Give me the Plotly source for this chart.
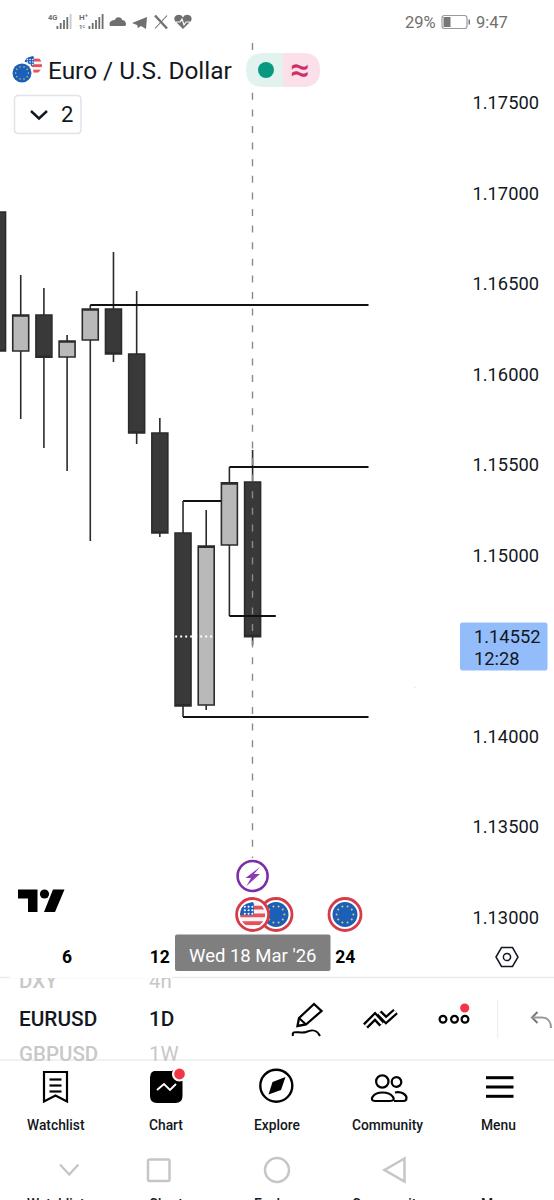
import math
import plotly.graph_objects as go

# ---- data -------------------------------------------------------------
dates = ["3 Mar", "4 Mar", "5 Mar", "6 Mar", "9 Mar", "10 Mar", "11 Mar", "12 Mar", "13 Mar", "16 Mar", "17 Mar", "18 Mar"]
opens = [1.16898, 1.16130, 1.16329, 1.16097, 1.16191, 1.16362, 1.16113, 1.15677, 1.15124, 1.14174, 1.15058, 1.15406]
highs = [1.16898, 1.16550, 1.16478, 1.16218, 1.16384, 1.16677, 1.16461, 1.15760, 1.15301, 1.15251, 1.15489, 1.15583]
lows = [1.16130, 1.15754, 1.15594, 1.15467, 1.15080, 1.16069, 1.15616, 1.15102, 1.14108, 1.14146, 1.14666, 1.14505]
closes = [1.16130, 1.16329, 1.16095, 1.16185, 1.16362, 1.16113, 1.15677, 1.15124, 1.14169, 1.15052, 1.15401, 1.14552]
last_price = 1.14552
levels = [1.16384, 1.15489, 1.14108, 1.14666]
level_start = [4, 10, 8, 10]
level_end = [16, 16, 16, 12]
hidden_level = 1.15301
hidden_start, hidden_end = 8, 10
price_ticks = [1.175, 1.17, 1.165, 1.16, 1.155, 1.15, 1.14, 1.135, 1.13]
date_ticks = [3, 7, 15]
date_labels = ["6", "12", "24"]

W, H = 554, 1200
INK = "#131722"
fig = go.Figure()

# ---- price chart -------------------------------------------------------
fig.add_trace(go.Candlestick(
    x=list(range(len(dates))), open=opens, high=highs, low=lows, close=closes,
    increasing=dict(line=dict(color="#2b2b2b", width=1.6), fillcolor="#b9b9b9"),
    decreasing=dict(line=dict(color="#2b2b2b", width=1.6), fillcolor="#393939"),
    whiskerwidth=0, hoverinfo="skip", showlegend=False, xaxis="x", yaxis="y"))
for lv, a, b in zip(levels, level_start, level_end):
    fig.add_trace(go.Scatter(x=[a, b], y=[lv, lv], mode="lines", line=dict(color="#111", width=1.9),
                             hoverinfo="skip", showlegend=False))
fig.add_trace(go.Scatter(x=[7.66, 9.37], y=[last_price, last_price], mode="lines",
                         line=dict(color="#ffffff", width=2, dash="2px,3px"), hoverinfo="skip", showlegend=False))
fig.add_trace(go.Scatter(x=[0], y=[0], mode="none", xaxis="x2", yaxis="y2", hoverinfo="skip", showlegend=False))

fig.add_shape(type="line", x0=hidden_start, x1=hidden_end, y0=hidden_level, y1=hidden_level,
              xref="x", yref="y", layer="below", line=dict(color="#111", width=1.9))

S = []
A = []

def shp(**k):
    k.setdefault("xref", "x2")
    k.setdefault("yref", "y2")
    S.append(k)

def rect(x0, y0, x1, y1, fill=None, line=None, lw=0):
    shp(type="rect", x0=x0, y0=y0, x1=x1, y1=y1, fillcolor=fill or "rgba(0,0,0,0)",
        line=dict(color=line or "rgba(0,0,0,0)", width=lw))

def circ(cx, cy, r, fill=None, line=None, lw=0):
    shp(type="circle", x0=cx - r, y0=cy - r, x1=cx + r, y1=cy + r, fillcolor=fill or "rgba(0,0,0,0)",
        line=dict(color=line or "rgba(0,0,0,0)", width=lw))

def path(d, fill=None, line=None, lw=0):
    shp(type="path", path=d, fillcolor=fill or "rgba(0,0,0,0)",
        line=dict(color=line or "rgba(0,0,0,0)", width=lw))

def seg(x0, y0, x1, y1, color, lw, dash=None):
    shp(type="line", x0=x0, y0=y0, x1=x1, y1=y1, line=dict(color=color, width=lw, dash=dash))

def poly(points, close=True):
    return "M" + " L".join(f"{x:.2f},{y:.2f}" for x, y in points) + (" Z" if close else "")

def rrect(x0, y0, x1, y1, r):
    return (f"M{x0+r},{y0} L{x1-r},{y0} Q{x1},{y0} {x1},{y0+r} L{x1},{y1-r} Q{x1},{y1} {x1-r},{y1} "
            f"L{x0+r},{y1} Q{x0},{y1} {x0},{y1-r} L{x0},{y0+r} Q{x0},{y0} {x0+r},{y0} Z")

def txt(x, y, s, size=18, color=INK, anchor="left", weight=400, yanchor="middle", family="Roboto"):
    A.append(dict(x=x, y=y, xref="x2", yref="y2", text=s, showarrow=False, xanchor=anchor, yanchor=yanchor,
                  font=dict(family=family, size=size, color=color, weight=weight), borderpad=0, borderwidth=0))

def mask(x0, y0, x1, y1):
    A.append(dict(x=x0, y=y0, xref="x2", yref="y2", text=" ", showarrow=False, xanchor="left", yanchor="top",
                  width=x1 - x0, height=y1 - y0, bgcolor="#ffffff", borderpad=0, borderwidth=0,
                  font=dict(size=1)))

def band(cx, cy, r, y0, y1, xmax=None, xmin=None):
    """Polygon: part of the disc between two heights."""
    n = 8
    ys = [y0 + (y1 - y0) * i / n for i in range(n + 1)]
    def half(y):
        d = r * r - (y - cy) ** 2
        return math.sqrt(max(d, 0))
    right = [(min(cx + half(y), xmax if xmax is not None else 1e9), y) for y in ys]
    left = [(max(cx - half(y), xmin if xmin is not None else -1e9), y) for y in reversed(ys)]
    return poly(right + left)

def eu_flag(cx, cy, r, dot):
    circ(cx, cy, r, fill="#1c5fb8")
    for i in range(10):
        a = 2 * math.pi * i / 10
        circ(cx + 0.67 * r * math.cos(a), cy + 0.67 * r * math.sin(a), dot, fill="#d9cf6a")

def us_flag(cx, cy, r):
    circ(cx, cy, r, fill="#f3f3f3")
    h = 2 * r / 6.5
    for k in (1, 3, 5):
        y0 = cy - r + k * h
        path(band(cx, cy, r, y0, y0 + h * 0.95), fill="#e8505a")
    path(band(cx, cy, r, cy - r, cy + 0.05 * r, xmax=cx + 0.1 * r), fill="#1c5fb8")
    for i in range(3):
        for j in range(3):
            circ(cx - 0.62 * r + i * 0.3 * r, cy - 0.62 * r + j * 0.28 * r, 0.075 * r + 0.1, fill="#ffffff")

# crosshair
seg(252.5, 43, 252.5, 858, "#8a8a8a", 1.4, "7px,9.6px")

# faint specks
circ(415, 687, 0.6, fill="#cccccc")
circ(392, 717, 0.6, fill="#dddddd")

# price tag
path(rrect(460, 622.5, 547.5, 670.5, 2.5), fill="#92bdfa")
txt(473.5, 636.5, "1.14552", 18.3)
txt(473.5, 658.5, "12:28", 18.3)

# ---- status bar --------------------------------------------------------
G = "#6f6f6f"
txt(48, 17, "4G", 7.5, G, weight=700)
for i, h in enumerate((3, 6, 9, 12, 15)):
    rect(56.5 + i * 3.3, 29 - h, 58.3 + i * 3.3, 29, fill=G if i < 4 else "#c9c9c9")
txt(79, 17, "H⁺", 8, G, weight=700)
txt(79, 26, "1ᴳ", 6, G, weight=700)
for i, h in enumerate((3, 6, 9, 12, 15)):
    rect(88.5 + i * 3.3, 29 - h, 90.3 + i * 3.3, 29, fill=G)
path("M110,26 C108,21 113,20 115,20 C116,16 122,17 122,20 C126,20 127,25 125,26 Z", fill=G)
path(poly([(132, 23), (147, 17), (146, 29), (141, 26), (138, 28), (137, 25)]), fill=G)
seg(155, 15.5, 167, 28.5, G, 2.4)
seg(167, 15.5, 155, 28.5, G, 1.1)
path("M183,29 L175,21 C172,16 180,12 183,17.5 C186,12 194,16 191,21 Z", fill=G)
path(poly([(176, 22), (180, 22), (182, 19), (184, 25), (186, 22), (190, 22)], close=False), line="#ffffff", lw=1.2)
txt(404.5, 22, "29%", 16.5, G)
path(rrect(442, 15.5, 467, 28.5, 2.5), line="#9a9a9a", lw=1.2)
rect(443.5, 17, 450.5, 27, fill="#777777")
rect(468.5, 19.5, 470, 24.5, fill="#777777")
txt(476, 22, "9:47", 16.5, G)

# ---- symbol header -----------------------------------------------------
us_flag(33, 65, 9)
circ(22, 73, 11.5, fill="#ffffff")
eu_flag(22, 73, 9.5, 0.75)
txt(48, 70, "Euro / U.S. Dollar", 24.4)
path(f"M283,53 L263,53 Q246,53 246,70 Q246,87 263,87 L283,87 Z", fill="#e1f2ef")
path(f"M283,53 L303,53 Q320,53 320,70 Q320,87 303,87 L283,87 Z", fill="#fbdfe9")
circ(266, 70, 8, fill="#089981")
txt(299, 69, "≈", 34, "#cc2f6a", anchor="center", weight=500)
path(rrect(14.5, 95.5, 81, 133.5, 4), fill="#ffffff", line="#e0e3eb", lw=1.5)
path(poly([(31, 111), (39, 118.5), (47, 111)], close=False), line="#131722", lw=2.4)
txt(67, 114, "2", 22, anchor="center")

# ---- logo --------------------------------------------------------------
path(poly([(18, 889.5), (37.5, 889.5), (37.5, 912), (28, 912), (28, 898.5), (18, 898.5)]), fill="#000000")
circ(44.5, 894, 4.6, fill="#000000")
path(poly([(53, 889.5), (64.5, 889.5), (55, 912), (44, 912)]), fill="#000000")

# ---- event badges ------------------------------------------------------
circ(252.6, 876, 15, fill="#ffffff", line="#7b2ea8", lw=2.6)
path(poly([(260, 867), (245.5, 878), (251, 878), (246.5, 886), (260, 874), (254, 874)]), fill="#8b3bb8")
for cx in (276, 345):
    circ(cx, 914.5, 16, fill="#ffffff", line="#d63c48", lw=2.8)
    eu_flag(cx, 914.5, 12.5, 1.0)
circ(252.6, 914.5, 16, fill="#ffffff", line="#d63c48", lw=2.8)
us_flag(252.6, 914.5, 12.5)

# ---- date tag + settings ----------------------------------------------
path(rrect(175, 934.5, 330.5, 971, 2), fill="#7f7f7f")
txt(252.7, 955.5, "Wed 18 Mar '26", 18.5, "#ffffff", anchor="center")
path(poly([(496, 957), (501.5, 947.5), (512.5, 947.5), (518, 957), (512.5, 966.5), (501.5, 966.5)]), line="#131722", lw=1.5)
circ(507, 957, 3.6, line="#131722", lw=1.5)
seg(0, 977.5, 554, 977.5, "#ececec", 1.5)

# ---- symbol picker -----------------------------------------------------
txt(19, 993, "DXY", 20.5, "#c8c8c8", yanchor="bottom", weight=500)
txt(149, 993, "4h", 20.5, "#c8c8c8", yanchor="bottom", weight=400)
mask(10, 971.5, 172, 977)
txt(19, 1019, "EURUSD", 20.8, INK, weight=500)
txt(149, 1019, "1D", 20.8, INK, weight=500)
txt(19, 1066, "GBPUSD", 20.5, "#c8c8c8", yanchor="bottom", weight=500)
txt(149, 1066, "1W", 20.5, "#c8c8c8", yanchor="bottom", weight=400)
mask(10, 1060.5, 172, 1070)
seg(0, 1060, 554, 1060, "#ececec", 1.5)

# toolbar icons
path(poly([(297.5, 1026), (299, 1018), (314, 1004), (321.5, 1011), (306, 1024.5)]), line="#000000", lw=2.3)
seg(299, 1018, 306, 1024.5, "#000000", 2)
path("M293,1036 C291,1029 300,1034 306,1032 C313,1029 317,1030 320,1036", line="#000000", lw=2)
for pts in ([(365.5, 1026), (375, 1016.5), (382, 1024)], [(379, 1013), (386, 1020), (395.5, 1011.5)]):
    path(poly(pts, close=False), line="#000000", lw=7)
    path(poly(pts, close=False), line="#ffffff", lw=2.4)
for cx in (443, 454.5, 465):
    circ(cx, 1019.3, 3.4, fill="#ffffff", line="#000000", lw=2.2)
circ(464.7, 1008, 4.6, fill="#f23645")
seg(497.7, 1000, 497.7, 1038, "#efefef", 1.2)
path(poly([(537.5, 1012), (532, 1017.5), (537.5, 1023)], close=False), line="#777777", lw=2)
path("M532,1017.5 L542,1017.5 C548,1017.5 551,1022 551,1028", line="#9a9a9a", lw=2)

# ---- bottom navigation -------------------------------------------------
path("M44,1072 L67,1072 L67,1101.5 L55.5,1095.5 L44,1101.5 Z", line="#000000", lw=2.2)
for y in (1079.5, 1085.5, 1091.5):
    seg(49.5, y, 61.5, y, "#000000", 2.2)
path(rrect(150, 1070.5, 182.5, 1103, 7), fill="#000000")
path(poly([(157, 1090), (164, 1084), (170, 1090), (176, 1084)], close=False), line="#ffffff", lw=1.9)
circ(179.5, 1074, 7.6, fill="#ffffff")
circ(179.5, 1074, 5.4, fill="#f23645")
circ(276.3, 1085.7, 16, line="#000000", lw=2.4)
path(poly([(285.5, 1077), (281, 1090), (268.5, 1094.5), (272.5, 1082)]), fill="#000000")
circ(382.3, 1081.5, 6.2, line="#000000", lw=2.2)
circ(396.5, 1082, 4.8, line="#000000", lw=2.2)
path("M375,1101 L390,1101 C394,1101 394.5,1099 393,1097 C389,1091 376,1091 372.5,1097 C371,1099 372,1101 375,1101 Z",
     fill="#ffffff", line="#000000", lw=2.2)
path("M395,1092.5 C402,1091 406.5,1095 406.5,1098 C406.5,1100 405.5,1101 403.5,1101 L394,1101", line="#000000", lw=2.2)
for y in (1077.7, 1087, 1096.3):
    rect(486, y - 1.5, 513.5, y + 1.5, fill="#000000")
for cx, s in ((55.5, "Watchlist"), (166, "Chart"), (277, "Explore"), (387, "Community"), (498, "Menu")):
    txt(cx, 1125, s, 13.8, INK, anchor="center", weight=500)

# system navigation
NAV = "#c6c6c6"
path(poly([(60, 1164.5), (69.2, 1174.5), (78.4, 1164.5)], close=False), line=NAV, lw=2.3)
path(rrect(148, 1159.5, 169.5, 1181, 1.5), line=NAV, lw=2.5)
circ(277, 1170, 12, line=NAV, lw=2.5)
path(poly([(404.5, 1158.5), (384.5, 1170), (404.5, 1181.5)]), line=NAV, lw=2.5)
for cx, s in ((55.5, "Watchlist"), (166, "Chart"), (277, "Explore"), (387, "Community"), (498, "Menu")):
    txt(cx, 1195.5, s, 13.8, INK, anchor="center", weight=500, yanchor="top")

fig.update_layout(
    width=W, height=H, margin=dict(l=0, r=0, t=0, b=0), paper_bgcolor="#ffffff", plot_bgcolor="#ffffff",
    showlegend=False, dragmode=False, shapes=fig.layout.shapes + tuple(S), annotations=A,
    font=dict(family="Roboto", color=INK), boxgap=0.17, boxgroupgap=0.17,
    xaxis=dict(domain=[0, 1], range=[0.106, 24.0], rangeslider=dict(visible=False), showgrid=False, zeroline=False,
               tickmode="array", tickvals=date_ticks, ticktext=date_labels, ticks="", showline=False,
               anchor="free", position=1 - 944 / H, side="bottom",
               tickfont=dict(family="Roboto", size=17.5, color="#000000", weight=700), fixedrange=True),
    yaxis=dict(domain=[0, 1], range=[1.175 - 1097 / 18100, 1.175 + 103 / 18100], showgrid=False, zeroline=False,
               tickmode="array", tickvals=price_ticks, tickformat=".5f", ticks="", showline=False, side="right",
               anchor="free", position=471.5 / W, tickfont=dict(family="Roboto", size=18.3, color=INK), fixedrange=True),
    xaxis2=dict(domain=[0, 1], range=[0, W], overlaying="x", visible=False, fixedrange=True, anchor="y2"),
    yaxis2=dict(domain=[0, 1], range=[H, 0], overlaying="y", visible=False, fixedrange=True, anchor="x2"),
)

fig.write_html("out.html", config=dict(displayModeBar=False, responsive=False),
               post_script="document.body.style.margin='0';document.documentElement.style.overflow='hidden';")
